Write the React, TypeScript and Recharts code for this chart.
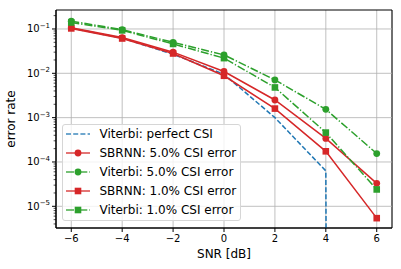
import React from 'react';
import {
  LineChart,
  Line,
  XAxis,
  YAxis,
  CartesianGrid,
  Legend,
  ReferenceLine,
  ReferenceArea,
} from 'recharts';

const snr = [-6, -4, -2, 0, 2, 4, 6];
const viterbiPerfect = [0.105, 0.062, 0.027, 0.0095, 0.001, 6.3e-5, 0];
const sbrnn5 = [0.107, 0.064, 0.03, 0.011, 0.0025, 3.4e-4, 3.3e-5];
const viterbi5 = [0.15, 0.097, 0.05, 0.026, 0.0071, 0.00154, 1.55e-4];
const sbrnn1 = [0.103, 0.061, 0.028, 0.0088, 0.0016, 1.74e-4, 5.4e-6];
const viterbi1 = [0.14, 0.093, 0.046, 0.022, 0.0048, 4.6e-4, 2.4e-5];

const xTicks = [-6, -4, -2, 0, 2, 4, 6];
const decades = [1e-5, 1e-4, 1e-3, 1e-2, 1e-1];

const FONT = 'DejaVu Sans';
const PLOT_LEFT = 56;
const X_DOMAIN: [number, number] = [-6.6, 6.6];
const Y_DOMAIN: [number, number] = [3.24e-6, 0.268];

// matplotlib clips non-positive values on a log axis to a tiny number
const clip = (v: number) => (v > 0 ? v : 1e-300);

const data = snr.map((x, i) => ({
  snr: x,
  vp: clip(viterbiPerfect[i]),
  s5: sbrnn5[i],
  v5: viterbi5[i],
  s1: sbrnn1[i],
  v1: viterbi1[i],
}));

// major + minor ticks for the log axis
const yTicks: number[] = [];
for (let e = -6; e <= 0; e++) {
  for (let m = 1; m <= 9; m++) {
    const v = m * Math.pow(10, e);
    if (v >= Y_DOMAIN[0] && v <= Y_DOMAIN[1]) yTicks.push(v);
  }
}

const series = [
  { key: 'vp', name: 'Viterbi: perfect CSI', color: '#1f77b4', dash: '5 2.2', marker: 'none' },
  { key: 's5', name: 'SBRNN: 5.0% CSI error', color: '#d62728', dash: undefined, marker: 'circle' },
  { key: 'v5', name: 'Viterbi: 5.0% CSI error', color: '#2ca02c', dash: '8 2 1.3 2', marker: 'circle' },
  { key: 's1', name: 'SBRNN: 1.0% CSI error', color: '#d62728', dash: undefined, marker: 'square' },
  { key: 'v1', name: 'Viterbi: 1.0% CSI error', color: '#2ca02c', dash: '8 2 1.3 2', marker: 'square' },
];

const YTick = (props: any) => {
  const { y, payload } = props;
  const lg = Math.log10(payload.value);
  const exp = Math.round(lg);
  const major = Math.abs(lg - exp) < 1e-6;
  return (
    <g>
      <line
        x1={PLOT_LEFT - (major ? 4 : 2.4)}
        x2={PLOT_LEFT}
        y1={y}
        y2={y}
        stroke="#000"
        strokeWidth={major ? 1 : 0.7}
      />
      {major && (
        <text x={PLOT_LEFT - 6} y={y + 3.5} textAnchor="end" fontSize={10} fontFamily={FONT} fill="#000">
          10
          <tspan dy={-4.5} fontSize={7}>
            {'\u2212' + -exp}
          </tspan>
        </text>
      )}
    </g>
  );
};

const renderMarker = (marker: string, color: string) => (p: any) => {
  if (p.cx == null || p.cy == null) return <g key={p.index} />;
  if (marker === 'circle') {
    return <circle key={p.index} cx={p.cx} cy={p.cy} r={3.4} fill={color} />;
  }
  if (marker === 'square') {
    return <rect key={p.index} x={p.cx - 3.3} y={p.cy - 3.3} width={6.6} height={6.6} fill={color} />;
  }
  return <g key={p.index} />;
};

const LegendBox = () => (
  <div
    style={{
      width: 179,
      height: 97,
      background: 'rgba(255,255,255,0.8)',
      border: '1px solid #d6d6d6',
      borderRadius: 3,
      boxSizing: 'border-box',
    }}
  >
    <svg width={177} height={95} style={{ display: 'block' }}>
      {series.map((s, i) => {
        const cy = 9 + i * 19;
        return (
          <g key={s.key}>
            <line x1={3} x2={27} y1={cy} y2={cy} stroke={s.color} strokeWidth={1.5} strokeDasharray={s.dash} opacity={0.85} />
            {s.marker === 'circle' && <circle cx={15} cy={cy} r={3.4} fill={s.color} />}
            {s.marker === 'square' && <rect x={11.7} y={cy - 3.3} width={6.6} height={6.6} fill={s.color} />}
            <text x={36.5} y={cy + 4.3} fontSize={12} fontFamily={FONT} fill="#000">
              {s.name}
            </text>
          </g>
        );
      })}
    </svg>
  </div>
);

export default function App() {
  return (
    <div style={{ position: 'absolute', left: 0, top: 0, background: '#fff' }}>
      <LineChart width={401} height={269} data={data} margin={{ top: 10, right: 9, bottom: 0, left: 0 }}>
        <CartesianGrid stroke="#b0b0b0" strokeWidth={0.8} horizontal={false} />
        {decades.map((d) => (
          <ReferenceLine key={d} y={d} stroke="#b0b0b0" strokeWidth={0.8} />
        ))}
        <XAxis
          dataKey="snr"
          type="number"
          domain={X_DOMAIN}
          ticks={xTicks}
          interval={0}
          height={41}
          stroke="#000"
          tickSize={4}
          tickMargin={3}
          tick={{ fontSize: 10, fontFamily: FONT, fill: '#000' }}
          tickFormatter={(v: number) => String(v).replace('-', '\u2212')}
          allowDataOverflow
          label={{ value: 'SNR [dB]', position: 'insideBottom', offset: 11, fontSize: 12, fontFamily: FONT, fill: '#000' }}
        />
        <YAxis
          type="number"
          scale="log"
          domain={Y_DOMAIN}
          allowDataOverflow
          ticks={yTicks}
          interval={0}
          width={PLOT_LEFT}
          stroke="#000"
          tickLine={false}
          tick={<YTick />}
          label={{
            content: (p: any) => {
              const vb = p.viewBox || { y: 10, height: 218 };
              return (
                <text
                  transform={`translate(15, ${vb.y + vb.height / 2}) rotate(-90)`}
                  textAnchor="middle"
                  fontSize={12}
                  fontFamily={FONT}
                  fill="#000"
                >
                  error rate
                </text>
              );
            },
          }}
        />
        <ReferenceArea
          x1={X_DOMAIN[0]}
          x2={X_DOMAIN[1]}
          y1={Y_DOMAIN[0]}
          y2={Y_DOMAIN[1]}
          fill="none"
          fillOpacity={0}
          stroke="#000"
          strokeWidth={1}
          ifOverflow="visible"
        />
        <Legend
          layout="vertical"
          align="center"
          verticalAlign="middle"
          wrapperStyle={{ left: 62, top: 124, width: 179, height: 97 }}
          content={() => <LegendBox />}
        />
        {series.map((s) => (
          <Line
            key={s.key}
            dataKey={s.key}
            name={s.name}
            type="linear"
            stroke={s.color}
            strokeWidth={1.5}
            strokeDasharray={s.dash}
            dot={renderMarker(s.marker, s.color)}
            activeDot={false}
            isAnimationActive={false}
          />
        ))}
      </LineChart>
    </div>
  );
}
